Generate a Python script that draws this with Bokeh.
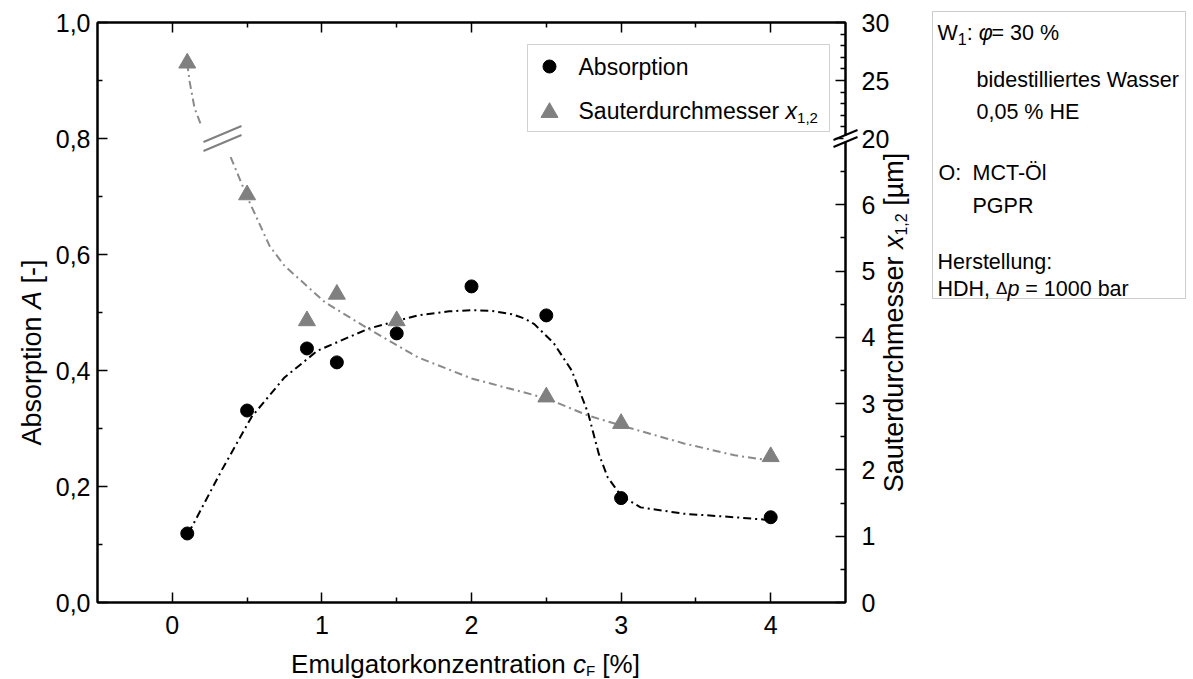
import math
from bokeh.plotting import figure
from bokeh.models import (Range1d, LinearAxis, FixedTicker, CustomJSTickFormatter,
                          Label, BoxAnnotation, Arrow, GridBox)
from bokeh.embed import file_html
from bokeh.resources import INLINE

# ---------------- data ----------------
conc_abs = [0.1, 0.5, 0.9, 1.1, 1.5, 2.0, 2.5, 3.0, 4.0]
absorption = [0.119, 0.331, 0.438, 0.414, 0.464, 0.545, 0.495, 0.180, 0.147]

conc_x12 = [0.1, 0.5, 0.9, 1.1, 1.5, 2.5, 3.0, 4.0]
sauter_x12 = [26.5, 6.15, 4.25, 4.65, 4.25, 3.10, 2.70, 2.20]

fit_abs_x = [0.10, 0.13, 0.33, 0.53, 0.75, 0.97, 1.31, 1.64, 1.85, 2.00, 2.13, 2.27, 2.35,
             2.42, 2.55, 2.67, 2.78, 2.85, 2.91, 3.00, 3.13, 3.42, 3.76, 4.00]
fit_abs_y = [0.120, 0.130, 0.228, 0.320, 0.388, 0.434, 0.472, 0.495, 0.502, 0.504, 0.503,
             0.497, 0.490, 0.480, 0.447, 0.400, 0.326, 0.257, 0.216, 0.184, 0.164, 0.153,
             0.147, 0.142]

fit_x12_upper_x = [0.100, 0.116, 0.149, 0.194]
fit_x12_upper_y = [26.5, 24.9, 22.6, 21.1]
fit_x12_lower_x = [0.39, 0.50, 0.65, 0.75, 1.02, 1.31, 1.64, 2.00, 2.50, 2.78, 3.00, 3.42, 3.76, 4.00]
fit_x12_lower_y = [6.72, 6.12, 5.38, 5.08, 4.53, 4.13, 3.70, 3.38, 3.08, 2.82, 2.67, 2.40, 2.22, 2.14]

x_ticks = [0, 1, 2, 3, 4]
x_minor = [0.5, 1.5, 2.5, 3.5]
a_ticks = [0.0, 0.2, 0.4, 0.6, 0.8, 1.0]
a_minor = [0.1, 0.3, 0.5, 0.7, 0.9]
r_ticks_low = [0, 1, 2, 3, 4, 5, 6]
r_minor_low = [0.5, 1.5, 2.5, 3.5, 4.5, 5.5, 6.5]
r_ticks_high = [20, 25, 30]
r_minor_high = [21, 22, 23, 24, 26, 27, 28, 29]

# broken right axis: 0..7 lower part, 20..30 upper part
BRK_LO, BRK_HI, HI_SCALE = 7.0, 20.0, 0.175


def brk(v):
    return v if v <= BRK_LO else BRK_LO + (v - BRK_HI) * HI_SCALE


# ---------------- layout helpers ----------------
FONT = "Liberation Sans"
W_PAGE, H = 1193, 679
FL, FR, FT, FB = 97, 845, 22, 602
XMIN, XMAX = -0.5, 4.5


def fx(px):
    return XMIN + (px - FL) * (XMAX - XMIN) / (FR - FL)


def fy(py):
    return (FB - py) / (FB - FT)


def ox(px):
    return px


def oy(py):
    return H - py


WID = {' ': 278, '!': 278, '%': 889, ',': 278, '-': 333, '.': 278, ':': 278, '=': 584,
       '[': 278, ']': 278, 'µ': 576, 'Ö': 778, 'φ': 600, 'Δ': 668}
for c in '0123456789':
    WID[c] = 556
WID.update(dict(zip('ABCDEFGHIJKLMNOPQRSTUVWXYZ',
                    [667, 667, 722, 722, 667, 611, 778, 722, 278, 500, 667, 556, 833, 722, 778,
                     667, 778, 722, 667, 611, 722, 667, 944, 667, 667, 611])))
WID.update(dict(zip('abcdefghijklmnopqrstuvwxyz',
                    [556, 556, 500, 556, 556, 278, 556, 556, 222, 222, 500, 222, 833, 556, 556,
                     556, 556, 333, 500, 278, 556, 500, 722, 500, 500, 500])))


def tw(s, size):
    return sum(WID.get(c, 556) for c in s) * size / 1000.0


def run(fig, parts, x_px, y_px, angle=0.0, center=False):
    """parts: (text, size, style, shift down in px); y_px is the visual middle line"""
    total = sum(tw(t, s) for t, s, st, sh in parts)
    cur = -total / 2 if center else 0.0
    for t, s, st, sh in parts:
        lead = len(t) - len(t.lstrip(' '))
        pos = cur + tw(' ' * lead, s)
        if angle == 0:
            px, py = x_px + pos, y_px + sh
        else:
            px, py = x_px + sh, y_px - pos
        fig.add_layout(Label(x=ox(px), y=oy(py), text=t.strip(), text_font=FONT,
                             text_font_size=f"{s}px", text_font_style=st, angle=angle,
                             text_align="left", text_baseline="middle",
                             text_color="black"))
        cur += tw(t, s)


# ---------------- main figure ----------------
p = figure(width=W_PAGE, height=H, x_range=Range1d(XMIN, XMAX), y_range=Range1d(0, 1),
           output_backend="svg", toolbar_location=None,
           min_border_left=FL, min_border_right=W_PAGE - FR,
           min_border_top=FT, min_border_bottom=H - FB)
p.extra_y_ranges = {"r": Range1d(0, brk(30))}
p.xgrid.visible = False
p.ygrid.visible = False
p.outline_line_color = "black"
p.outline_line_width = 2
p.background_fill_color = "white"
p.border_fill_color = "white"

TICK_FS = "25px"


def style_axis(ax):
    ax.axis_line_width = 2
    ax.axis_line_color = "black"
    ax.major_tick_in = 10
    ax.major_tick_out = 0
    ax.minor_tick_in = 5
    ax.minor_tick_out = 0
    ax.major_tick_line_width = 1.5
    ax.minor_tick_line_width = 1.5
    ax.major_label_text_font = FONT
    ax.major_label_text_font_size = TICK_FS
    ax.major_label_text_color = "black"


xa = p.xaxis[0]
xa.ticker = FixedTicker(ticks=x_ticks, minor_ticks=x_minor)
style_axis(xa)
xa.major_label_standoff = 13

ya = p.yaxis[0]
ya.ticker = FixedTicker(ticks=a_ticks, minor_ticks=a_minor)
ya.formatter = CustomJSTickFormatter(code="return tick.toFixed(1).replace('.', ',');")
style_axis(ya)
ya.major_label_standoff = 7

ra = LinearAxis(y_range_name="r",
                ticker=FixedTicker(ticks=[brk(v) for v in r_ticks_low + r_ticks_high],
                                   minor_ticks=[brk(v) for v in r_minor_low + r_minor_high]),
                formatter=CustomJSTickFormatter(args=dict(lo=BRK_LO, hi=BRK_HI, sc=HI_SCALE),
                                                code="""
if (tick >= lo - 1e-6) { return String(Math.round(hi + (tick - lo) / sc)); }
return String(Math.round(tick));
"""))
style_axis(ra)
ra.major_label_standoff = 16
p.add_layout(ra, "right")

ta = LinearAxis(ticker=FixedTicker(ticks=x_ticks, minor_ticks=x_minor))
style_axis(ta)
ta.major_label_text_color = None
ta.major_label_text_font_size = "0px"
ta.major_label_standoff = 0
p.add_layout(ta, "above")

# fitted curves
GRAY = "#808080"
p.line(fit_abs_x, fit_abs_y, line_color="black", line_width=2, line_dash="8 4 2 4")
p.line(fit_x12_upper_x, [brk(v) for v in fit_x12_upper_y], y_range_name="r",
       line_color="#8a8a8a", line_width=2, line_dash="8 4 2 4")
p.line(fit_x12_lower_x, [brk(v) for v in fit_x12_lower_y], y_range_name="r",
       line_color="#8a8a8a", line_width=2, line_dash="8 4 2 4")

# data points
p.scatter(conc_x12, [brk(v) for v in sauter_x12], y_range_name="r", marker="triangle",
          size=17, fill_color=GRAY, line_color=GRAY)
p.scatter(conc_abs, absorption, marker="circle", size=13, fill_color="black", line_color="black")

# break symbol on the gray curve (at the axis break level)
by_px = FB - (FB - FT) * BRK_LO / brk(30)
bx_px = 222
for off in (-4.5, 4.5):
    p.add_layout(Arrow(start=None, end=None, x_start=fx(bx_px - 19), y_start=fy(by_px + off + 8),
                       x_end=fx(bx_px + 19), y_end=fy(by_px + off - 8),
                       line_color="#808080", line_width=2))

# ---------------- transparent overlay for texts outside the frame ----------------
o = figure(width=W_PAGE, height=H, x_range=Range1d(0, W_PAGE), y_range=Range1d(0, H),
           x_axis_type=None, y_axis_type=None, output_backend="svg", toolbar_location=None,
           min_border=0)
o.outline_line_color = None
o.xgrid.visible = False
o.ygrid.visible = False
o.background_fill_color = None
o.border_fill_color = None
for fig in (o, p):
    try:
        fig.frame_align = False
    except Exception:
        pass

# break symbol on the right axis
o.add_layout(Arrow(start=None, end=None, x_start=FR, y_start=oy(by_px - 3),
                   x_end=FR, y_end=oy(by_px + 3), line_color="white", line_width=4))
for off in (-3.5, 3.5):
    o.add_layout(Arrow(start=None, end=None, x_start=FR - 12, y_start=oy(by_px + off + 5),
                       x_end=FR + 12, y_end=oy(by_px + off - 5),
                       line_color="black", line_width=2))

# legend (custom, to allow italic / subscript)
o.add_layout(BoxAnnotation(left=527, right=829, top=oy(44), bottom=oy(131),
                           fill_color=None, line_color="#666666", line_width=1))
o.scatter([549], [oy(66)], marker="circle", size=13, fill_color="black", line_color="black")
o.scatter([549], [oy(112)], marker="triangle", size=17, fill_color=GRAY, line_color=GRAY)
run(o, [("Absorption", 23, "normal", 0)], 578, 66)
run(o, [("Sauterdurchmesser ", 23, "normal", 0), ("x", 23, "italic", 0),
        ("1,2", 15, "normal", 7)], 578, 110)

# axis titles
TS = 26
TSV = 27
run(o, [("Absorption ", TSV, "normal", 0), ("A", TSV, "italic", 0), (" [-]", TSV, "normal", 0)],
    31, 352, angle=math.pi / 2, center=True)
run(o, [("Emulgatorkonzentration ", TS, "normal", 0), ("c", TS, "italic", 0),
        ("F", 15, "normal", 7), (" [%]", TS, "normal", 0)],
    465, 663, center=True)
run(o, [("Sauterdurchmesser ", TSV, "normal", 0), ("x", TSV, "italic", 0),
        ("1,2", 16, "normal", 7), (" [µm]", TSV, "normal", 0)],
    893, 322, angle=math.pi / 2, center=True)

# conditions box
o.add_layout(BoxAnnotation(left=932, right=1185, top=oy(11), bottom=oy(298),
                           fill_color=None, line_color="#555555", line_width=1))
FS = 21.5
run(o, [("W", FS, "normal", 0), ("1", 16, "normal", 6), (": ", FS, "normal", 0),
        ("φ", FS, "italic", 0), ("= 30 %", FS, "normal", 0)], 937, 32)
run(o, [("bidestilliertes Wasser", FS, "normal", 0)], 976, 79)
run(o, [("0,05 % HE", FS, "normal", 0)], 976, 111)
run(o, [("O:", FS, "normal", 0)], 938, 172)
run(o, [("MCT-Öl", FS, "normal", 0)], 972, 172)
run(o, [("PGPR", FS, "normal", 0)], 972, 205)
run(o, [("Herstellung:", FS, "normal", 0)], 937, 261)
run(o, [("HDH, ", FS, "normal", 0), ("Δ", 17, "normal", 0), ("p", FS, "italic", 0),
        (" = 1000 bar", FS, "normal", 0)], 937, 288)

layout = GridBox(children=[(p, 0, 0), (o, 0, 0)])
open("out.html", "w").write(file_html(layout, INLINE, "Absorption und Sauterdurchmesser"))
